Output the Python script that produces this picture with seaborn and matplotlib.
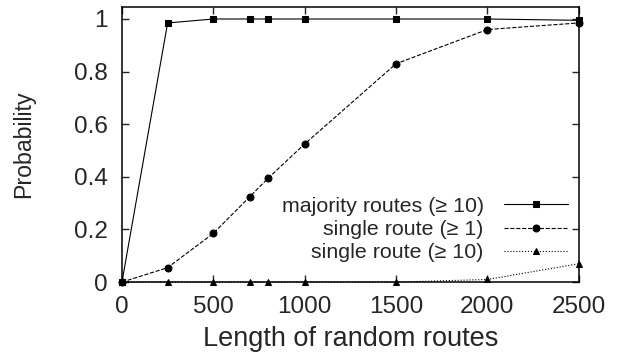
import pandas as pd
import matplotlib
matplotlib.use('Agg')
import matplotlib.pyplot as plt
import seaborn as sns

# datos
lengths = [0, 250, 500, 700, 800, 1000, 1500, 2000, 2500]
majority_10 = [0, 0.985, 1, 1, 1, 1, 1, 1, 0.995]
single_1 = [0, 0.055, 0.185, 0.325, 0.395, 0.525, 0.83, 0.96, 0.985]
single_10 = [0, 0, 0, 0, 0, 0, 0, 0.01, 0.07]

labels = ['majority routes (\u2265 10)', 'single route (\u2265 1)', 'single route (\u2265 10)']

sns.set_style('ticks')
plt.rcParams['font.family'] = ['Liberation Sans', 'DejaVu Sans']

fig = plt.figure(figsize=(6.19, 3.58), dpi=100)
ax = fig.add_axes([0.197, 0.212, 0.738, 0.768])

estilos = [('-', 's', 5), ('--', 'o', 5), (':', '^', 4.5)]
for serie, lab, (ls, mk, ms) in zip([majority_10, single_1, single_10], labels, estilos):
    df = pd.DataFrame({'x': lengths, 'y': serie})
    sns.lineplot(data=df, x='x', y='y', ax=ax, color='black', linestyle=ls,
                 marker=mk, markersize=ms, markeredgecolor='black', linewidth=0.8,
                 label=lab, clip_on=False, zorder=3)

ax.set_xlim(0, 2500)
ax.set_ylim(0, 1.045)
ax.set_xticks([0, 500, 1000, 1500, 2000, 2500])
ax.set_yticks([0, 0.2, 0.4, 0.6, 0.8, 1])
ax.set_yticklabels(['0', '0.2', '0.4', '0.6', '0.8', '1'])
ax.tick_params(direction='in', top=True, right=True, labelsize=17.5, length=5, width=1, pad=10)
for s in ax.spines.values():
    s.set_linewidth(1.1)
    s.set_color('black')

ax.set_xlabel('Length of random routes', fontsize=19.5, labelpad=6)
ax.set_ylabel('Probability', fontsize=16.7, labelpad=28)

ax.legend(loc='lower right', bbox_to_anchor=(1.005, 0.025), frameon=False, markerfirst=False,
          fontsize=15.4, handlelength=3.0, labelspacing=0.2, handletextpad=0.95, borderaxespad=0.2)

fig.savefig('out.png', dpi=100)
